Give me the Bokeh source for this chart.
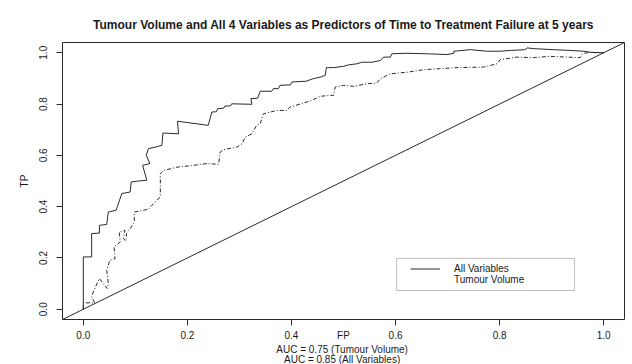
from bokeh.plotting import figure
from bokeh.models import (Range1d, FixedTicker, PrintfTickFormatter, Slope, Title,
                          Legend, LegendItem, BoxAnnotation)
from bokeh.embed import file_html
from bokeh.resources import INLINE

# ---------------- data ----------------
fp_all = [0.000, 0.000, 0.016, 0.016, 0.031, 0.031, 0.045, 0.048, 0.063, 0.074,
          0.090, 0.092, 0.106, 0.122, 0.114, 0.128, 0.121, 0.125, 0.138, 0.151,
          0.153, 0.183, 0.181, 0.240, 0.247, 0.256, 0.258, 0.270, 0.272, 0.283,
          0.285, 0.324, 0.322, 0.335, 0.340, 0.362, 0.365, 0.375, 0.378, 0.398,
          0.401, 0.428, 0.442, 0.455, 0.465, 0.467, 0.481, 0.500, 0.510, 0.526,
          0.535, 0.555, 0.571, 0.577, 0.590, 0.593, 0.622, 0.660, 0.699, 0.712,
          0.712, 0.744, 0.776, 0.801, 0.821, 0.849, 0.853, 0.865, 0.904, 0.936,
          0.962, 0.974, 1.000]
tp_all = [0.000, 0.204, 0.204, 0.295, 0.297, 0.327, 0.331, 0.379, 0.386, 0.451,
          0.457, 0.496, 0.500, 0.503, 0.561, 0.568, 0.600, 0.626, 0.632, 0.639,
          0.687, 0.684, 0.733, 0.717, 0.769, 0.770, 0.782, 0.784, 0.792, 0.793,
          0.801, 0.799, 0.821, 0.823, 0.850, 0.850, 0.860, 0.860, 0.873, 0.875,
          0.886, 0.889, 0.899, 0.905, 0.912, 0.942, 0.942, 0.947, 0.953, 0.957,
          0.963, 0.963, 0.970, 0.983, 0.983, 0.996, 0.998, 0.996, 0.993, 0.998,
          1.006, 1.012, 1.006, 1.006, 1.009, 1.012, 1.019, 1.016, 1.012, 1.009,
          1.006, 1.002, 1.000]

fp_tv = [0.000, 0.000, 0.022, 0.016, 0.019, 0.031, 0.038, 0.046, 0.048, 0.045,
         0.051, 0.061, 0.059, 0.071, 0.069, 0.080, 0.077, 0.082, 0.083, 0.090,
         0.098, 0.098, 0.115, 0.125, 0.141, 0.148, 0.148, 0.154, 0.180, 0.212,
         0.237, 0.260, 0.263, 0.269, 0.295, 0.305, 0.311, 0.324, 0.333, 0.340,
         0.346, 0.372, 0.391, 0.397, 0.417, 0.436, 0.455, 0.474, 0.481, 0.484,
         0.500, 0.519, 0.545, 0.564, 0.571, 0.590, 0.622, 0.654, 0.686, 0.718,
         0.769, 0.795, 0.801, 0.814, 0.833, 0.865, 0.897, 0.930, 0.955, 0.960,
         0.974, 1.000]
tp_tv = [0.000, 0.025, 0.025, 0.048, 0.067, 0.120, 0.100, 0.081, 0.100, 0.152,
         0.191, 0.197, 0.243, 0.262, 0.301, 0.308, 0.275, 0.266, 0.295, 0.314,
         0.340, 0.379, 0.386, 0.390, 0.425, 0.438, 0.529, 0.541, 0.554, 0.561,
         0.568, 0.565, 0.613, 0.622, 0.632, 0.645, 0.671, 0.684, 0.717, 0.723,
         0.762, 0.775, 0.775, 0.788, 0.800, 0.812, 0.830, 0.834, 0.834, 0.866,
         0.873, 0.869, 0.879, 0.882, 0.899, 0.918, 0.924, 0.934, 0.938, 0.942,
         0.944, 0.957, 0.973, 0.977, 0.983, 0.981, 0.986, 0.983, 0.981, 0.998,
         1.001, 1.000]

auc_tv = 0.75
auc_all = 0.85
ticks = [0.0, 0.2, 0.4, 0.6, 0.8, 1.0]
series_names = ["All Variables", "Tumour Volume"]
title_text = "Tumour Volume and All 4 Variables as Predictors of Time to Treatment Failure at 5 years"

# ---------------- figure ----------------
FONT = "Liberation Sans"
INK = "#1a1a1a"
LINE = "#2a2a2a"

p = figure(width=632, height=364, output_backend="svg", toolbar_location=None,
           x_range=Range1d(-0.04, 1.04), y_range=Range1d(-0.04, 1.04),
           min_border_left=62, min_border_right=8, min_border_top=42,
           min_border_bottom=45, title=title_text)
p.background_fill_color = "white"
p.border_fill_color = "white"
p.outline_line_color = LINE
p.outline_line_width = 1
p.outline_line_alpha = 1
p.grid.visible = False

p.title.text_font = FONT
p.title.text_font_size = "12px"
p.title.text_font_style = "bold"
p.title.text_color = INK
p.title.align = "center"
p.title.standoff = 21

for ax in (p.xaxis[0], p.yaxis[0]):
    ax.ticker = FixedTicker(ticks=ticks)
    ax.formatter = PrintfTickFormatter(format="%.1f")
    ax.major_tick_out = 6
    ax.major_tick_in = 0
    ax.minor_tick_out = 0
    ax.minor_tick_in = 0
    ax.major_tick_line_color = LINE
    ax.axis_line_color = None
    ax.major_label_text_font = FONT
    ax.major_label_text_font_size = "10px"
    ax.major_label_text_color = INK
    ax.axis_label_text_font = FONT
    ax.axis_label_text_font_size = "10px"
    ax.axis_label_text_font_style = "normal"
    ax.axis_label_text_color = INK

p.xaxis.major_label_standoff = 5
p.xaxis.axis_label = "FP"
p.xaxis.axis_label_standoff = -12
p.yaxis.major_label_standoff = 9
p.yaxis.major_label_orientation = "vertical"
p.yaxis.axis_label = "TP"
p.yaxis.axis_label_standoff = 7

# AUC lines under the axis title
for txt, so in ((f"AUC =  {auc_tv:.2f} ({series_names[1]})", -4),
                (f"AUC =  {auc_all:.2f} ({series_names[0]})", -1)):
    p.add_layout(Title(text=txt, align="center", standoff=so, text_font=FONT,
                       text_font_size="10px", text_font_style="normal",
                       text_color=INK), "below")

# diagonal reference line (abline 0,1)
p.add_layout(Slope(gradient=1, y_intercept=0, line_color=LINE, line_width=1))

r_all = p.line(fp_all, tp_all, line_color=LINE, line_width=1)
r_tv = p.line(fp_tv, tp_tv, line_color=LINE, line_width=1, line_dash="4 2 1 2")
r_leg_tv = p.line([], [], line_color=LINE, line_width=1, line_dash="3 3")

# legend frame
p.add_layout(BoxAnnotation(left=0.602, right=0.944, bottom=0.073, top=0.198,
                           fill_alpha=0, line_color=LINE, line_width=1))
legend = Legend(items=[LegendItem(label=series_names[0], renderers=[r_all]),
                       LegendItem(label=series_names[1], renderers=[r_leg_tv])],
                location=(348, 34.5), orientation="vertical", padding=0, margin=0,
                spacing=0, glyph_width=30, glyph_height=11, label_height=11,
                label_standoff=14, label_text_font=FONT, label_text_font_size="10px",
                label_text_color=INK, border_line_color=None,
                background_fill_alpha=0)
p.add_layout(legend)

open("out.html", "w").write(file_html(p, INLINE))
